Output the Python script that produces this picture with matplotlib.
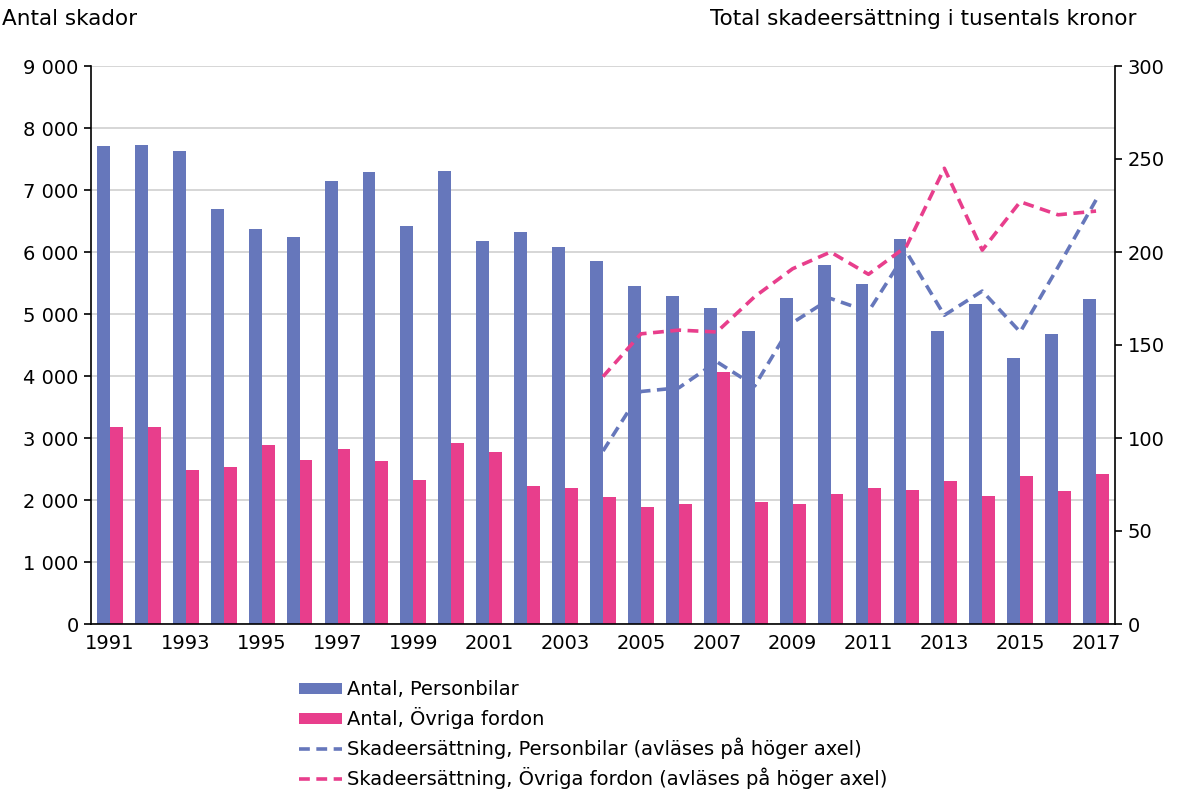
import matplotlib
matplotlib.use("Agg")
import matplotlib.pyplot as plt
import numpy as np
from matplotlib.ticker import FuncFormatter

# ── Data ──────────────────────────────────────────────────────────────────
years = list(range(1991, 2018))
antal_personbilar = [7710, 7726, 7624, 6694, 6371, 6247, 7140, 7290, 6419, 7301,
                     6172, 6323, 6075, 5860, 5452, 5290, 5092, 4731, 5253, 5785,
                     5479, 6210, 4731, 5156, 4285, 4672, 5242]
antal_ovriga = [3172, 3172, 2479, 2527, 2887, 2640, 2823, 2624, 2317, 2919,
                2774, 2226, 2188, 2043, 1882, 1930, 4060, 1968, 1930, 2102,
                2188, 2166, 2306, 2065, 2387, 2140, 2414]
line_years = list(range(2004, 2018))
ers_personbilar = [93, 125, 127, 141, 128, 162, 175, 168, 200, 166, 179, 157, 192, 228]
ers_ovriga = [133, 156, 158, 157, 176, 191, 200, 188, 203, 245, 201, 227, 220, 222]

blue = "#6677bb"
pink = "#e83e8c"

plt.rcParams["font.family"] = ["DejaVu Sans"]
fs = 14

fig = plt.figure(figsize=(11.81, 7.97), dpi=100)
ax = fig.add_axes([91 / 1181, 1 - 624 / 797, 1024 / 1181, 558 / 797])
ax2 = ax.twinx()

x = np.arange(len(years))
w = 0.34
b1 = ax.bar(x - w / 2, antal_personbilar, w, color=blue, label="Antal, Personbilar", zorder=2)
b2 = ax.bar(x + w / 2, antal_ovriga, w, color=pink, label="Antal, Övriga fordon", zorder=2)

lx = np.array([years.index(y) for y in line_years])
l1, = ax2.plot(lx, ers_personbilar, color=blue, lw=2.6, linestyle=(0, (3, 1.8)),
               label="Skadeersättning, Personbilar (avläses på höger axel)")
l2, = ax2.plot(lx, ers_ovriga, color=pink, lw=2.6, linestyle=(0, (3, 1.8)),
               label="Skadeersättning, Övriga fordon (avläses på höger axel)")

ax.set_xlim(-0.5, len(years) - 0.5)
ax.set_ylim(0, 9000)
ax.set_yticks(range(0, 9001, 1000))
ax.yaxis.set_major_formatter(FuncFormatter(lambda v, p: f"{int(v):,}".replace(",", " ")))
ax2.set_ylim(0, 300)
ax2.set_yticks(range(0, 301, 50))

ax.set_xticks(x[::2])
ax.set_xticklabels([str(y) for y in years[::2]])
ax.tick_params(axis="x", length=0, labelsize=fs, pad=7)
ax.tick_params(axis="y", direction="out", length=5, width=1.2, labelsize=fs, pad=4)
ax2.tick_params(axis="y", direction="out", length=5, width=1.2, labelsize=fs, pad=4)

ax.grid(axis="y", color="#d0d0d0", lw=1.2, zorder=0)
ax.set_axisbelow(True)
for a in (ax, ax2):
    a.spines["top"].set_visible(False)
    for s in ("left", "right", "bottom"):
        a.spines[s].set_linewidth(1.2)
ax.spines["right"].set_visible(False)
ax2.spines["left"].set_visible(False)
ax2.spines["bottom"].set_visible(False)

fig.text(2 / 1181, 1 - 19 / 797, "Antal skador", fontsize=15.5, va="center", ha="left")
fig.text(1137 / 1181, 1 - 19 / 797, "Total skadeersättning i tusentals kronor",
         fontsize=15.5, va="center", ha="right")

fig.legend(handles=[b1, b2, l1, l2], loc="upper left",
           bbox_to_anchor=(299 / 1181, 1 - 680 / 797), frameon=False,
           fontsize=fs, handlelength=2.2, handleheight=0.5, handletextpad=0.25,
           labelspacing=0.42, borderpad=0, borderaxespad=0)

fig.savefig("out.png", dpi=100)
